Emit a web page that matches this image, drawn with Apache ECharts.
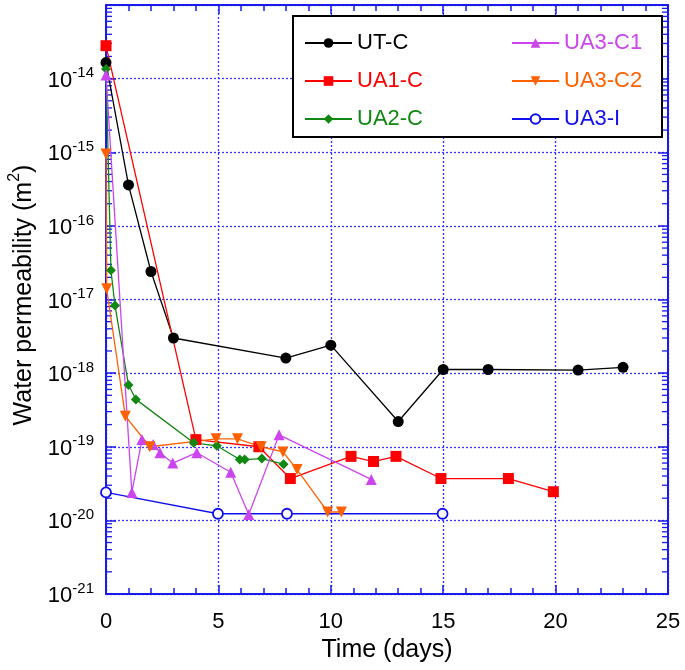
<!DOCTYPE html>
<html>
<head>
<meta charset="utf-8">
<script src="https://cdn.jsdelivr.net/npm/echarts@6/dist/echarts.min.js"></script>
<style>html,body{margin:0;padding:0;background:#fff}#c{width:685px;height:670px}</style>
</head>
<body>
<div id="c"></div>
<script>
// ---- data, permeability in m^2 ----
const seriesNames = ['UT-C', 'UA1-C', 'UA2-C', 'UA3-C1', 'UA3-C2', 'UA3-I'];
const xTicks = [0, 5, 10, 15, 20, 25];
const yDecades = [-21, -20, -19, -18, -17, -16, -15, -14, -13];
const yMin = 1e-21, yMax = 1e-13;

const utcDays = [0, 1, 2, 3, 8, 10, 13, 15, 17, 21, 23];
const utcPerm = [1.65e-14, 3.6e-16, 2.4e-17, 3.0e-18, 1.6e-18, 2.4e-18, 2.2e-19, 1.12e-18, 1.12e-18, 1.1e-18, 1.2e-18];

const ua1Days = [0, 4, 6.8, 8.2, 10.9, 11.9, 12.9, 14.9, 17.9, 19.9];
const ua1Perm = [2.8e-14, 1.25e-19, 1.0e-19, 3.7e-20, 7.4e-20, 6.3e-20, 7.4e-20, 3.7e-20, 3.7e-20, 2.45e-20];

const ua2Days = [0, 0.22, 0.4, 1.0, 1.33, 3.9, 4.93, 5.95, 6.17, 6.93, 7.9];
const ua2Perm = [1.35e-14, 2.5e-17, 8.3e-18, 6.9e-19, 4.4e-19, 1.13e-19, 1.03e-19, 6.7e-20, 6.7e-20, 6.9e-20, 5.8e-20];

const ua3c1Days = [0, 1.15, 1.6, 2.1, 2.4, 2.97, 4.04, 5.55, 6.35, 7.7, 11.8];
const ua3c1Perm = [1.12e-14, 2.4e-20, 1.25e-19, 1.07e-19, 8.3e-20, 6.0e-20, 8.3e-20, 4.5e-20, 1.2e-20, 1.45e-19, 3.6e-20];

const ua3c2Days = [0, 0.03, 0.86, 1.95, 4.9, 5.85, 6.9, 7.87, 8.5, 9.86, 10.47];
const ua3c2Perm = [9.5e-16, 1.4e-17, 2.6e-19, 1.0e-19, 1.28e-19, 1.28e-19, 1.0e-19, 8.5e-20, 4.9e-20, 1.3e-20, 1.3e-20];

const ua3iDays = [0, 4.98, 8.05, 14.97];
const ua3iPerm = [2.4e-20, 1.23e-20, 1.23e-20, 1.23e-20];

// ECharts' log scale rounds numbers below ~1e-20 to 0, so values are handed to
// the log axis in units of 1e-8 m^2 and the labels shift the exponent back.
const EXP_SHIFT = 8;
const UNIT = Math.pow(10, EXP_SHIFT);

// ---- styling ----
const colors = ['#000000', '#ff0000', '#118811', '#cc44ee', '#ff6000', '#1010ee'];
const symbols = ['circle', 'rect', 'diamond', 'triangle', 'triangle', 'circle'];
const rotates = [0, 0, 0, 0, 180, 0];
const sizes = [11, 11, 10, 11, 11, 10];
const allDays = [utcDays, ua1Days, ua2Days, ua3c1Days, ua3c2Days, ua3iDays];
const allPerm = [utcPerm, ua1Perm, ua2Perm, ua3c1Perm, ua3c2Perm, ua3iPerm];

const axisBlue = '#1a1aee';
const gridBlue = '#3535ff';
const FONT = 'Liberation Sans, Arial, sans-serif';

const series = seriesNames.map((name, i) => ({
  name: name,
  type: 'line',
  xAxisIndex: 0,
  yAxisIndex: 0,
  data: allDays[i].map((d, j) => [d, allPerm[i][j] * UNIT]),
  symbol: symbols[i],
  symbolSize: sizes[i],
  symbolRotate: rotates[i],
  showSymbol: true,
  animation: false,
  lineStyle: { color: colors[i], width: 1.3 },
  itemStyle: { color: i === 5 ? '#ffffff' : colors[i], borderColor: colors[i], borderWidth: i === 5 ? 1.8 : 0, opacity: 1 },
  z: 3
}));

// logarithmic minor ticks (2..9 × 10^e) on the left and right frame
const minorVals = [];
yDecades.slice(0, -1).forEach(e => { for (let m = 2; m <= 9; m++) minorVals.push([m * Math.pow(10, e) * UNIT]); });
series.push({
  type: 'custom',
  name: 'minor',
  xAxisIndex: 0,
  yAxisIndex: 0,
  silent: true,
  clip: false,
  z: 1,
  data: minorVals,
  renderItem: function (params, api) {
    const v = api.value(0);
    const l = api.coord([0, v]);
    const r = api.coord([25, v]);
    const st = { stroke: axisBlue, lineWidth: 1.3 };
    return {
      type: 'group',
      children: [
        { type: 'line', shape: { x1: l[0], y1: l[1], x2: l[0] + 6, y2: l[1] }, style: st },
        { type: 'line', shape: { x1: r[0], y1: r[1], x2: r[0] - 6, y2: r[1] }, style: st }
      ]
    };
  }
});

function legendFor(names, left) {
  return {
    orient: 'vertical',
    left: left,
    top: 27,
    itemWidth: 47,
    itemHeight: 12,
    itemGap: 16,
    z: 20,
    data: names.map(n => ({ name: n, textStyle: { color: colors[seriesNames.indexOf(n)] } })),
    textStyle: { fontSize: 22, fontFamily: FONT },
    selectedMode: false
  };
}

const yLabel = {
  fontFamily: FONT,
  color: '#000',
  margin: 12,
  showMinLabel: true,
  showMaxLabel: true,
  hideOverlap: false,
  formatter: function (v) {
    const e = Math.round(Math.log10(v)) - EXP_SHIFT;
    if (!isFinite(e) || e > -14) return '';
    return '{b|10}{s|' + e + '}';
  },
  rich: {
    b: { fontSize: 22, fontFamily: FONT, color: '#000', lineHeight: 26, verticalAlign: 'bottom' },
    s: { fontSize: 15, fontFamily: FONT, color: '#000', lineHeight: 26, verticalAlign: 'top' }
  }
};

function yAxisDef(pos, withLabels) {
  return {
    type: 'log',
    logBase: 10,
    min: yMin * UNIT, max: yMax * UNIT,
    splitNumber: 8,
    position: pos,
    axisLine: { show: true, onZero: false, lineStyle: { color: axisBlue, width: 2 } },
    axisTick: { show: true, inside: true, length: 10, lineStyle: { color: axisBlue, width: 1.5 } },
    axisLabel: withLabels ? yLabel : { show: false },
    splitLine: { show: withLabels, lineStyle: { color: gridBlue, type: [2, 2], width: 1.3 } }
  };
}

function xAxisDef(pos, withLabels) {
  return {
    type: 'value',
    min: 0, max: 25, interval: 5,
    position: pos,
    name: withLabels ? 'Time (days)' : '',
    nameLocation: 'middle',
    nameGap: 43,
    nameTextStyle: { fontSize: 25, fontFamily: FONT, color: '#000' },
    axisLine: { show: true, onZero: false, lineStyle: { color: axisBlue, width: 2 } },
    axisTick: { show: true, inside: true, length: 9, lineStyle: { color: axisBlue, width: 1.5 } },
    minorTick: { show: true, splitNumber: 5, length: 6, lineStyle: { color: axisBlue, width: 1.5 } },
    axisLabel: withLabels ? { fontSize: 22, fontFamily: FONT, color: '#000', margin: 17, hideOverlap: false,
      showMinLabel: true, showMaxLabel: true,
      formatter: v => (xTicks.indexOf(v) >= 0 ? String(v) : '') } : { show: false },
    splitLine: { show: withLabels, lineStyle: { color: gridBlue, type: [2, 2], width: 1.3 } }
  };
}

const option = {
  backgroundColor: '#ffffff',
  animation: false,
  grid: { left: 106, right: 17, top: 5, bottom: 76, show: false, containLabel: false, outerBoundsMode: 'none' },
  legend: [
    legendFor(['UT-C', 'UA1-C', 'UA2-C'], 299),
    legendFor(['UA3-C1', 'UA3-C2', 'UA3-I'], 506)
  ],
  graphic: [{
    type: 'rect',
    z: 10,
    shape: { x: 293, y: 16, width: 369, height: 121 },
    style: { fill: '#ffffff', stroke: '#000000', lineWidth: 2 }
  }, {
    type: 'text',
    z: 10,
    x: 22,
    y: 295,
    rotation: Math.PI / 2,
    style: {
      text: '{a|Water permeability (m}{s|2}{a|)}',
      align: 'center',
      verticalAlign: 'middle',
      rich: {
        a: { fontSize: 25, fontFamily: FONT, fill: '#000', lineHeight: 30, verticalAlign: 'bottom' },
        s: { fontSize: 16, fontFamily: FONT, fill: '#000', lineHeight: 30, verticalAlign: 'top' }
      }
    }
  }],
  xAxis: [xAxisDef('bottom', true), xAxisDef('top', false)],
  yAxis: [yAxisDef('left', true), yAxisDef('right', false)],
  series: series
};

const chart = echarts.init(document.getElementById('c'), null, { renderer: 'canvas' });
chart.setOption(option);
</script>
</body>
</html>
